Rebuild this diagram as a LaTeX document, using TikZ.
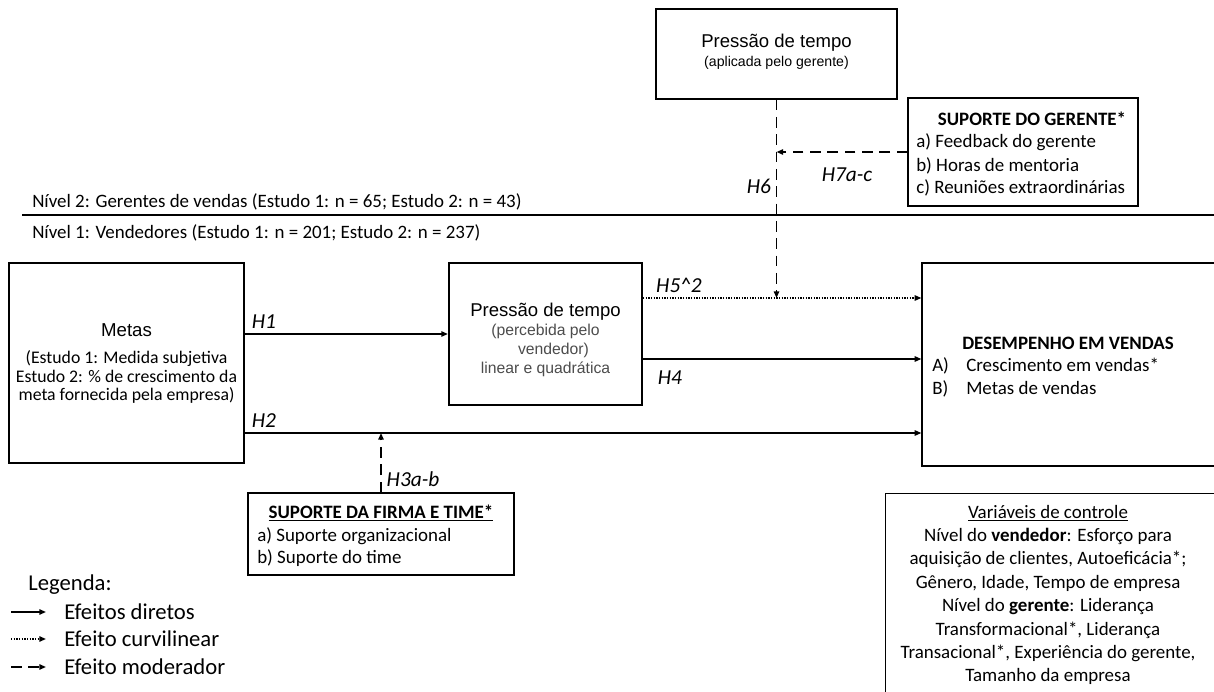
\documentclass[tikz,border=0pt]{standalone}
\usepackage{fontspec}
\setmainfont{Carlito}
\newfontfamily\arialf{Liberation Sans}
\usetikzlibrary{arrows.meta}

\tikzset{
  box/.style={draw, line width=0.9pt, rectangle, inner sep=0pt},
  direct/.style={line width=1.2pt, -{Triangle[length=5pt,width=4pt]}},
  curvi/.style={line width=1.2pt, dash pattern=on 1pt off 1pt, -{Triangle[length=5pt,width=4pt]}},
  moder/.style={line width=1.2pt, dash pattern=on 8pt off 5pt, -{Triangle[length=5pt,width=4pt]}},
  hlab/.style={font=\fontsize{16}{18}\selectfont\itshape, inner sep=0pt},
  txt/.style={font=\fontsize{14.2}{17.4}\selectfont, inner sep=0pt},
  legtxt/.style={font=\fontsize{17}{20}\selectfont, inner sep=0pt, anchor=west}
}

\begin{document}
\begin{tikzpicture}[x=0.75pt, y=-0.75pt]
  \useasboundingbox (0, 0) rectangle (1214, 692);

  \node[box, minimum width=180.75pt, minimum height=67.5pt] (topbox) at (776.5, 54) {};
  \node[inner sep=0pt, font=\arialf\fontsize{13.9}{16}\selectfont] (topT) at (776.5, 43) {Pressão de tempo};
  \node[inner sep=0pt, font=\arialf\fontsize{10.6}{12}\selectfont] (topS) at (776.5, 63) {(aplicada pelo gerente)};

  \node[box, minimum width=172.5pt, minimum height=81pt] (gerbox) at (1023, 152) {};
  \node[txt] (gerT) at (1032, 119) {\textbf{SUPORTE DO GERENTE*}};
  \node[txt, anchor=west] (gerA) at (916, 142) {a) Feedback do gerente};
  \node[txt, anchor=west] (gerB) at (916, 166) {b) Horas de mentoria};
  \node[txt, anchor=west] (gerC) at (916, 188) {c) Reuniões extraordinárias};

  \coordinate (sepL) at (22, 215);
  \coordinate (sepR) at (1216, 215);
  \draw[line width=0.9pt] (sepL) -- (sepR);
  \node[txt, anchor=west] (lvl2) at (32, 202) {Nível 2: Gerentes de vendas (Estudo 1: n = 65; Estudo 2: n = 43)};
  \node[txt, anchor=west] (lvl1) at (32, 233) {Nível 1: Vendedores (Estudo 1: n = 201; Estudo 2: n = 237)};

  \node[box, minimum width=176.25pt, minimum height=150pt] (metas) at (126.5, 363) {};
  \node[inner sep=0pt, font=\arialf\fontsize{14}{16}\selectfont] (metT) at (126.5, 330) {Metas};
  \node[inner sep=0pt, align=center, font=\fontsize{13.3}{13.6}\selectfont] (metS) at (126.5, 377)
    {(Estudo 1: Medida subjetiva\\ Estudo 2: \% de crescimento da\\ meta fornecida pela empresa)};

  \node[box, line width=1.6pt, minimum width=144.75pt, minimum height=106.5pt] (ptbox) at (545.5, 334) {};
  \node[inner sep=0pt, font=\arialf\fontsize{13.9}{16}\selectfont] (ptT) at (545.5, 312) {Pressão de tempo};
  \node[inner sep=0pt, align=center, text=black!70, font=\arialf\fontsize{11.8}{14.2}\selectfont] (ptS) at (545.5, 350)
    {(percebida pelo\\ \hspace*{12pt}vendedor)\\ linear e quadrática};

  \node[box, minimum width=223.5pt, minimum height=152.25pt] (desemp) at (1071, 364.5) {};
  \node[txt] (desT) at (1068, 343) {\textbf{DESEMPENHO EM VENDAS}};
  \node[txt, anchor=west] (desA) at (932, 366) {\makebox[25.5pt][l]{A)}Crescimento em vendas*};
  \node[txt, anchor=west] (desB) at (932, 389) {\makebox[25.5pt][l]{B)}Metas de vendas};

  \node[box, minimum width=199.5pt, minimum height=61.5pt] (firma) at (381, 534) {};
  \node[txt] (firT) at (381, 513) {\underline{\textbf{SUPORTE DA FIRMA E TIME*}}};
  \node[txt, anchor=west] (firA) at (257, 536) {a) Suporte organizacional};
  \node[txt, anchor=west] (firB) at (257, 558) {b) Suporte do time};

  \node[box, minimum width=251.25pt, minimum height=155.25pt, anchor=north west] (ctrl) at (885, 493) {};
  \node[txt, align=center, font=\fontsize{14.2}{17.55}\selectfont] (ctrltxt) at (1048, 595)
    {\underline{Variáveis de controle}\\
     Nível do \textbf{vendedor}: Esforço para\\
     aquisição de clientes, Autoeficácia*;\\
     Gênero, Idade, Tempo de empresa\\
     Nível do \textbf{gerente}: Liderança\\
     Transformacional*, Liderança\\
     Transacional*, Experiência do gerente,\\
     Tamanho da empresa};

  \draw[direct] (metas.east |- ptbox.west) -- (ptbox.west);
  \draw[direct] ([yshift=-52.5pt]metas.east) coordinate (h2s) -- (h2s -| desemp.west);
  \draw[direct] ([yshift=-18.75pt]ptbox.east) coordinate (h4s) -- (h4s -| desemp.west);
  \draw[curvi] ([yshift=27pt]ptbox.east) coordinate (h5s) -- (h5s -| desemp.west);
  \draw[moder] (topbox.south) -- (topbox.south |- h5s);
  \draw[moder] (gerbox.west) -- (gerbox.west -| topbox.south);
  \draw[moder] (firma.north) -- (firma.north |- h2s);

  \node[hlab] (lh1) at (264, 322) {H1};
  \node[hlab] (lh2) at (264, 421) {H2};
  \node[hlab] (lh3) at (413, 479) {H3a-b};
  \node[hlab] (lh4) at (670, 378) {H4};
  \node[hlab] (lh5) at (679, 285) {H5\^{}2};
  \node[hlab] (lh6) at (759, 186) {H6};
  \node[hlab] (lh7) at (847, 175) {H7a-c};

  \node[legtxt] (leg) at (28, 585) {Legenda:};
  \node[legtxt] (leg1) at (64, 612) {Efeitos diretos};
  \node[legtxt] (leg2) at (64, 639) {Efeito curvilinear};
  \node[legtxt] (leg3) at (64, 667) {Efeito moderador};
  \draw[direct] ([xshift=-39.75pt]leg1.west) -- ([xshift=-13.5pt]leg1.west);
  \draw[curvi] ([xshift=-39.75pt]leg2.west) -- ([xshift=-13.5pt]leg2.west);
  \draw[moder] ([xshift=-39.75pt]leg3.west) -- ([xshift=-13.5pt]leg3.west);
\end{tikzpicture}
\end{document}
